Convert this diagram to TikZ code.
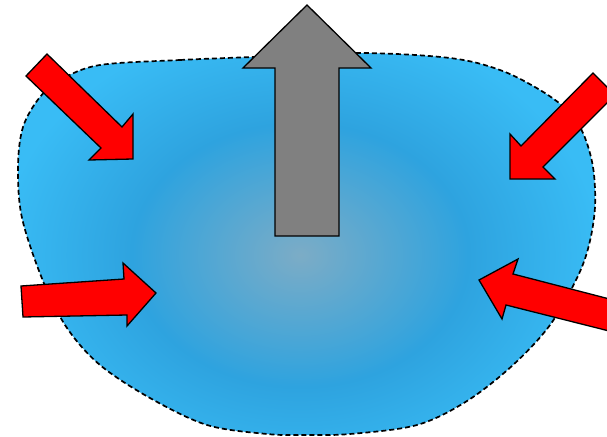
\documentclass[tikz,border=0pt]{standalone}
\usetikzlibrary{calc}
\definecolor{blobC}{RGB}{124,172,198}
\definecolor{blobM}{RGB}{46,163,223}
\definecolor{blobO}{RGB}{57,188,245}
\pgfdeclareradialshading{blobshade}{\pgfpoint{0bp}{0bp}}{%
  color(0bp)=(blobC); color(14bp)=(blobM); color(25bp)=(blobO); color(50bp)=(blobO)}
\tikzset{
  redarrow/.style={fill=red, draw=black, line width=1.3pt, line join=miter},
  grayarrow/.style={fill={rgb,255:red,128;green,128;blue,128}, draw=black, line width=1.3pt, line join=miter},
  blobline/.style={draw=black, line width=1.7pt, dash pattern=on 5pt off 3pt}
}
\begin{document}
\begin{tikzpicture}[x=1pt,y=-1pt]
\useasboundingbox (0,0) rectangle (607,436);
\clip (0,0) rectangle (607,436);
\def\blobpath{plot[smooth cycle, tension=0.55] coordinates {
 (100,65) (180,60) (253,57) (360,53) (450,58) (500,70) (540,90) (567,110)
 (583,133) (593,167) (595,207) (589,245) (577,278) (550,325) (513,365)
 (467,401) (417,425) (350,434) (305,435) (267,434) (207,425) (150,398)
 (100,365) (67,328) (43,281) (22,218) (18,167) (23,127) (40,97) (62,79)}}
\begin{scope}
  \clip \blobpath;
  \shade[shading=blobshade] (0,20) rectangle (600,490);
\end{scope}
\draw[blobline] \blobpath;
% gray arrow up
\draw[grayarrow] (275,236) -- (275,68) -- (243,68) -- (307,5) -- (371,68) -- (339,68) -- (339,236) -- cycle;
% top-left red arrow
\draw[redarrow] (47,54) -- (122,127) -- (133,114) -- (133,159) -- (89,160) -- (101,148) -- (26,76) -- cycle;
% top-right red arrow
\draw[redarrow] (593,73) -- (521,146) -- (510,134) -- (510,179) -- (555,179) -- (543,167) -- (615,95) -- cycle;
% left red arrow
\draw[redarrow] (21,286) -- (124,279) -- (123,263) -- (156,293) -- (127,326) -- (127,315) -- (23,317) -- cycle;
% right red arrow
\draw[redarrow] (479,280) -- (518,259) -- (513,274) -- (625,303) -- (625,335) -- (506,305) -- (502,319) -- cycle;
\end{tikzpicture}
\end{document}
